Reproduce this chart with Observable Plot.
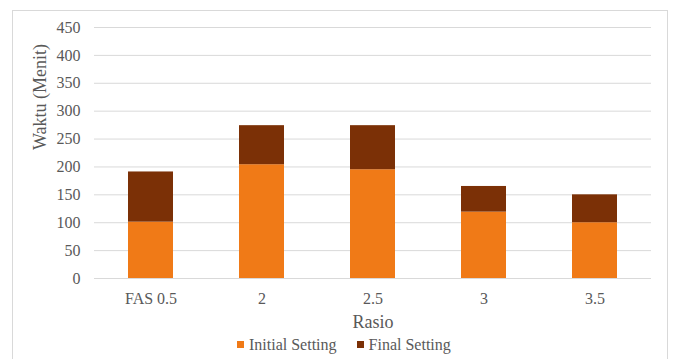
<!DOCTYPE html>
<html>
<head>
<meta charset="utf-8">
<script src="https://cdn.jsdelivr.net/npm/d3@7"></script>
<script src="https://cdn.jsdelivr.net/npm/@observablehq/plot@0.6"></script>
<style>
  html, body { margin: 0; padding: 0; background: #fff; }
  #wrap { position: relative; width: 675px; height: 359px; overflow: hidden; font-family: "Liberation Serif", "DejaVu Serif", serif; }
  #border { position: absolute; left: 12px; top: 10px; width: 656px; height: 400px; border: 1px solid #d9d9d9; box-sizing: border-box; }
  #chart { position: absolute; left: 0; top: 0; }
  #legend { position: absolute; top: 334px; left: 237px; font-size: 16px; color: #595959; line-height: 18px; white-space: nowrap; font-family: "Liberation Serif", "DejaVu Serif", serif; }
  .item { display: inline-flex; align-items: center; }
  .sw { display: inline-block; width: 7px; height: 7px; margin-right: 5px; }
  #chart svg, #chart svg text { font-family: "Liberation Serif", "DejaVu Serif", serif !important; }
</style>
</head>
<body>
<div id="wrap">
  <div id="border"></div>
  <div id="chart"></div>
  <div id="legend"></div>
</div>
<script>
const categories = ["FAS 0.5", "2", "2.5", "3", "3.5"];
const series = ["Initial Setting", "Final Setting"];
const initialValues = [101, 204, 195, 119, 100];
const finalValues = [90, 70, 79, 46, 50];
const colors = ["#F07A17", "#7B3006"];
const yTicks = [0, 50, 100, 150, 200, 250, 300, 350, 400, 450];

const data = [];
categories.forEach((c, i) => {
  data.push({cat: c, series: series[0], value: initialValues[i]});
  data.push({cat: c, series: series[1], value: finalValues[i]});
});

const chart = Plot.plot({
  width: 675,
  height: 359,
  marginLeft: 94,
  marginRight: 24,
  marginTop: 27,
  marginBottom: 81,
  style: {fontSize: "16px", color: "#595959", background: "transparent"},
  x: {domain: categories, paddingInner: 0.596, paddingOuter: 0.298, label: null},
  y: {domain: [0, 450], label: null},
  color: {domain: series, range: colors},
  marks: [
    Plot.gridY(yTicks, {stroke: "#d9d9d9", strokeOpacity: 1}),
    Plot.barY(data, {x: "cat", y: "value", fill: "series"}),
    Plot.axisY(yTicks, {tickSize: 0, tickPadding: 14, label: null}),
    Plot.axisX({tickSize: 0, tickPadding: 14, label: null}),
    Plot.text(["Rasio"], {text: d => d, frameAnchor: "bottom", dy: 49, fontSize: 18, fill: "#595959"}),
    Plot.text(["Waktu (Menit)"], {text: d => d, frameAnchor: "left", rotate: -90, dx: -54, dy: -3, fontSize: 18, fill: "#595959"})
  ]
});
document.getElementById("chart").appendChild(chart);

const legend = document.getElementById("legend");
series.forEach((s, i) => {
  const item = document.createElement("span");
  item.className = "item";
  if (i > 0) item.style.marginLeft = "20px";
  const sw = document.createElement("span");
  sw.className = "sw";
  sw.style.background = colors[i];
  item.appendChild(sw);
  item.appendChild(document.createTextNode(s));
  legend.appendChild(item);
});
</script>
</body>
</html>
